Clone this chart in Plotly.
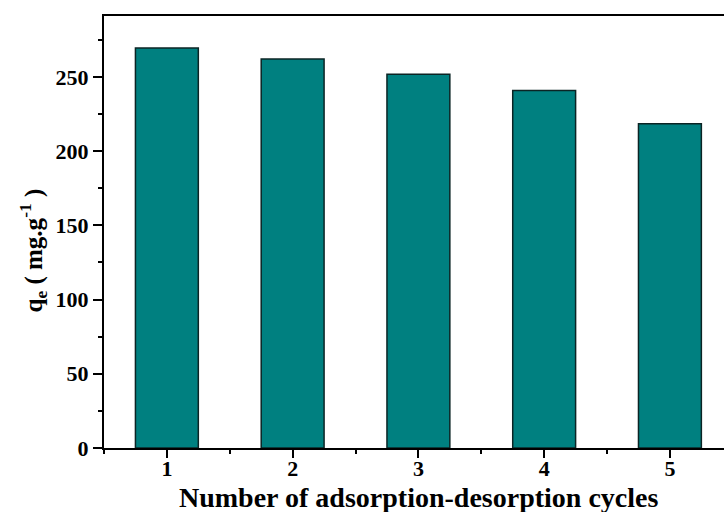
import plotly.graph_objects as go

# Adsorption capacity over repeated adsorption-desorption cycles
cycles = [1, 2, 3, 4, 5]
qe_values = [269.5, 262.0, 251.8, 240.8, 218.5]
y_tick_values = [0, 50, 100, 150, 200, 250]

FONT = "Liberation Serif"
BAR_COLOR = "#008080"

fig = go.Figure()
fig.add_trace(go.Bar(
    x=cycles,
    y=qe_values,
    width=0.5,
    marker=dict(color=BAR_COLOR, line=dict(color="#0b2424", width=1.5)),
))

fig.update_layout(
    width=724,
    height=512,
    margin=dict(l=104, r=0, t=16, b=64),
    plot_bgcolor="white",
    paper_bgcolor="white",
    showlegend=False,
    font=dict(family=FONT, color="black"),
    xaxis=dict(
        range=[0.5, 5.43],
        tickvals=cycles,
        ticktext=[f"<b>{c}</b>" for c in cycles],
        ticks="outside",
        ticklen=8,
        tickwidth=2,
        tickcolor="black",
        ticklabelstandoff=-8,
        showline=True,
        linecolor="black",
        linewidth=2,
        mirror=True,
        showgrid=False,
        zeroline=False,
        tickfont=dict(family=FONT, size=22, color="black"),
        minor=dict(dtick=0.5, tick0=0.5, ticks="outside", ticklen=4,
                   tickwidth=2, tickcolor="black", showgrid=False),
    ),
    yaxis=dict(
        range=[0, 291],
        tickvals=y_tick_values,
        ticktext=[f"<b>{v}</b>" for v in y_tick_values],
        ticks="outside",
        ticklen=9,
        tickwidth=2,
        tickcolor="black",
        showline=True,
        linecolor="black",
        linewidth=2,
        showgrid=False,
        zeroline=False,
        tickfont=dict(family=FONT, size=22, color="black"),
        minor=dict(dtick=25, tick0=0, ticks="outside", ticklen=4,
                   tickwidth=2, tickcolor="black", showgrid=False),
    ),
    annotations=[
        dict(
            text="<b>Number of adsorption-desorption cycles</b>",
            xref="x", yref="paper",
            x=3, y=-0.156,
            xanchor="center", yanchor="bottom",
            showarrow=False,
            font=dict(family=FONT, size=28, color="black"),
        ),
        dict(
            text="<b>q<sub>e</sub> ( mg.g<sup>-1</sup> )</b>",
            xref="paper", yref="paper",
            x=-0.114, y=0.458,
            xanchor="center", yanchor="middle",
            textangle=-90,
            showarrow=False,
            font=dict(family=FONT, size=25, color="black"),
        ),
    ],
)

fig.write_html("out.html")
